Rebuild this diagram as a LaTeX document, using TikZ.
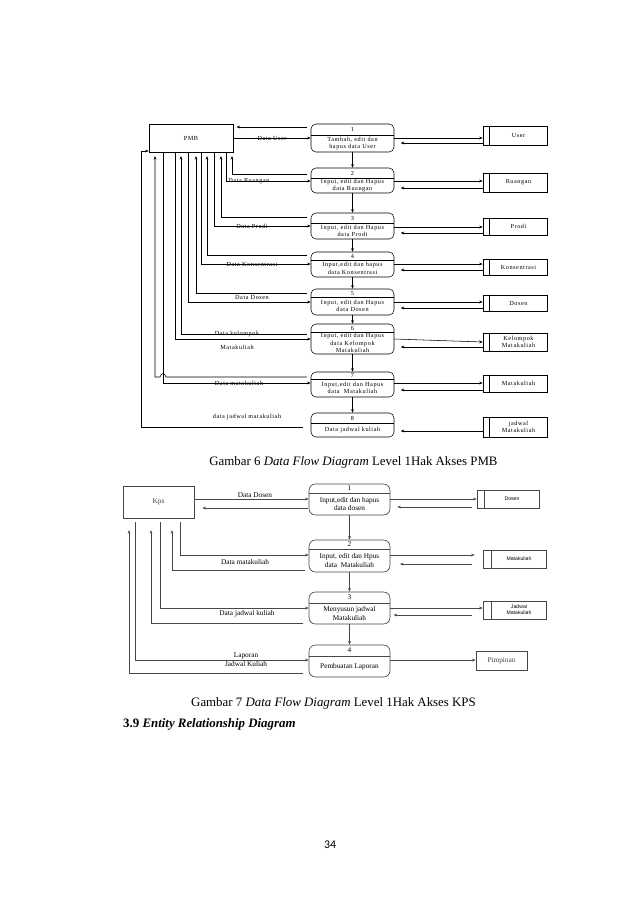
\documentclass[tikz,border=0pt]{standalone}
\usepackage{fontspec}
\setmainfont{Liberation Serif}
\newfontfamily\dfa[LetterSpace=9]{Liberation Serif}
\newfontfamily\dsans{Liberation Sans}
\newfontfamily\carl{Carlito}
\usetikzlibrary{arrows.meta}
\newcommand\pxu{0.9323pt}
\newcommand\ftA{\dfa\fontsize{5.8}{6.9}\selectfont}
\newcommand\ftB{\fontsize{6.8}{7.5}\selectfont}
\newcommand\ftS{\dsans\fontsize{4.8}{5.6}\selectfont}
\tikzset{
  ln/.style={line width=0.5pt, black},
  arr/.style={ln, -{Stealth[length=3.3pt,width=2.6pt]}},
  pbox/.style={draw, ln, rounded corners=4.6pt, inner sep=0pt, minimum width=83*\pxu},
  sbox/.style={draw, ln, inner sep=0pt},
  txt/.style={inner sep=0pt, align=center, font=\ftA},
  stxt/.style={txt}
}
% process: name, cx, top, bottom, divider, number, text
\newcommand\dproc[7]{%
  \node[pbox, minimum height={(#4-#3)*\pxu}] (#1) at (#2,{(#3+#4)/2}) {};
  \draw[ln] (#1.west |- 0,#5) -- (#1.east |- 0,#5);
  \node[txt] (#1n) at (#2,{(#3+#5)/2}) {#6};
  \node[txt] (#1t) at (#2,{(#5+#4)/2}) {#7};
}
% store: name, left, right, top, bottom, inner offset, text
\newcommand\dstore[7]{%
  \node[sbox, minimum width={(#3-#2)*\pxu}, minimum height={(#5-#4)*\pxu}] (#1) at ({(#2+#3)/2},{(#4+#5)/2}) {};
  \draw[ln] ([xshift=#6*\pxu]#1.north west) -- ([xshift=#6*\pxu]#1.south west);
  \node[stxt] (#1t) at ({(#2+#6+#3)/2},{(#4+#5)/2}) {#7};
}
\begin{document}
\begin{tikzpicture}[x=0.9323pt, y=-0.9323pt]
\fill[white] (0,0) rectangle (638,903);
\useasboundingbox (0,0) rectangle (638,903);

% ================= Diagram 1 (PMB) =================
\node[sbox, txt, minimum width=84*\pxu, minimum height=28*\pxu] (pmb) at (191,138) {PMB};

\dproc{p1}{352.5}{124}{152}{135}{1}{Tambah, edit dan\\hapus data User}
\dproc{p2}{352.5}{168}{193}{178}{2}{Input, edit dan Hapus\\data Ruangan}
\dproc{p3}{352.5}{213}{239}{223}{3}{Input, edit dan Hapus\\data Prodi}
\dproc{p4}{352.5}{252}{277}{260}{4}{Input,edit dan hapus\\data Konsentrasi}
\dproc{p5}{352.5}{289}{315}{297}{5}{Input, edit dan Hapus\\data Dosen}
\dproc{p6}{352.5}{324}{354}{332}{6}{Input, edit dan Hapus\\data Kelompok\\Matakuliah}
\dproc{p7}{352.5}{372}{397}{379}{7}{Input,edit dan Hapus\\data\ \ Matakuliah}
\dproc{p8}{352.5}{413}{437}{423}{8}{Data jadwal kuliah}

\dstore{su}{483}{547}{126}{145}{7}{User}
\dstore{sr}{483}{547}{173}{192}{7}{Ruangan}
\dstore{sp}{483}{547}{218}{235}{7}{Prodi}
\dstore{sk}{483}{547}{259}{275}{7}{Konsentrasi}
\dstore{sd}{483}{547}{295}{311}{7}{Dosen}
\dstore{skm}{483}{547}{333}{351}{7}{Kelompok\\Matakuliah}
\dstore{sm}{483}{547}{375}{392}{7}{Matakuliah}
\dstore{sjm}{483}{547}{417}{437}{7}{jadwal\\Matakuliah}

% vertical flow
\draw[arr] (p1.south) -- (p2.north);
\draw[arr] (p2.south) -- (p3.north);
\draw[arr] (p3.south) -- (p4.north);
\draw[arr] (p4.south) -- (p5.north);
\draw[arr] (p5.south) -- (p6.north);
\draw[arr] (p6.south) -- (p7.north);
\draw[arr] (p7.south) -- (p8.north);

% right side (process <-> store)
\draw[arr] (p1.east |- 0,138) -- (su.west |- 0,138);
\draw[arr, shorten >=6pt] (su.west |- 0,143) -- (p1.east |- 0,143);
\draw[arr] (p2.east |- 0,181) -- (sr.west |- 0,181);
\draw[arr, shorten >=6pt] (sr.west |- 0,188) -- (p2.east |- 0,188);
\draw[arr] (p3.east |- 0,227) -- (sp.west |- 0,227);
\draw[arr, shorten >=6pt] (sp.west |- 0,233) -- (p3.east |- 0,233);
\draw[arr] (p4.east |- 0,264) -- (sk.west |- 0,264);
\draw[arr, shorten >=6pt] (sk.west |- 0,270) -- (p4.east |- 0,270);
\draw[arr] (p5.east |- 0,302) -- (sd.west |- 0,302);
\draw[arr, shorten >=6pt] (sd.west |- 0,308) -- (p5.east |- 0,308);
\draw[arr] (p6.east |- 0,339) -- (skm.west |- 0,342);
\draw[arr, shorten >=6pt] (skm.west |- 0,347) -- (p6.east |- 0,347);
\draw[arr] (p7.east |- 0,383) -- (sm.west |- 0,383);
\draw[arr, shorten >=6pt] (sm.west |- 0,390) -- (p7.east |- 0,390);
\draw[arr, shorten >=6pt] (sjm.west |- 0,431) -- (p8.east |- 0,431);

% left side (PMB <-> process)
\draw[arr, shorten <=3.7pt, shorten >=3pt] (p1.west |- 0,127) -- (pmb.east |- 0,127);
\draw[arr] (pmb.east |- 0,138) -- (p1.west |- 0,138);
\draw[arr, shorten <=3.7pt, shorten >=3.5pt] (p2.west |- 0,174) -| (pmb.south -| 232,0);
\draw[arr] (pmb.south -| 226,0) |- (p2.west |- 0,181);
\draw[arr, shorten <=3.7pt, shorten >=3.5pt] (p3.west |- 0,217) -| (pmb.south -| 221,0);
\draw[arr] (pmb.south -| 214,0) |- (p3.west |- 0,226);
\draw[arr, shorten <=3.7pt, shorten >=3.5pt] (p4.west |- 0,255) -| (pmb.south -| 207,0);
\draw[arr] (pmb.south -| 201,0) |- (p4.west |- 0,264);
\draw[arr, shorten <=3.7pt, shorten >=3.5pt] (p5.west |- 0,293) -| (pmb.south -| 196,0);
\draw[arr] (pmb.south -| 188,0) |- (p5.west |- 0,302);
\draw[arr, shorten <=3.7pt, shorten >=3.5pt] (p6.west |- 0,334) -| (pmb.south -| 181,0);
\draw[arr] (pmb.south -| 175,0) |- (p6.west |- 0,339);
\draw[arr, shorten <=3.7pt, shorten >=3.5pt] (p7.west |- 0,377) -- (166,377) .. controls (165,372.5) and (161,372.5) .. (160,377) -| (pmb.south -| 155,0);
\draw[arr] (pmb.south -| 163,0) |- (p7.west |- 0,383);
\draw[arr, shorten <=7pt] (p8.west |- 0,427) -- (141,427) |- (pmb.west |- 0,151);

% labels
\node[txt] (lu) at (272,138) {Data User};
\node[txt] (lr) at (249,181) {Data Ruangan};
\node[txt] (lp) at (252,226) {Data Prodi};
\node[txt] (lk) at (252,264) {Data Konsentrasi};
\node[txt] (ld) at (252,297) {Data Dosen};
\node[txt] (lkm1) at (237,334) {Data kelompok};
\node[txt] (lkm2) at (237,347) {Matakuliah};
\node[txt] (lm) at (239,383) {Data matakuliah};
\node[txt] (lj) at (247,417) {data jadwal matakuliah};

\node[font=\fontsize{12}{14}\selectfont, inner sep=0pt] (cap6) at (353.5,462) {Gambar 6 \textit{Data Flow Diagram} Level 1Hak Akses PMB};

% ================= Diagram 2 (KPS) =================
\begin{scope}[
  ln/.style={line width=0.6pt, black!72},
  pbox/.style={draw, ln, rounded corners=6pt, inner sep=0pt, minimum width=81*\pxu},
  txt/.style={inner sep=0pt, align=center, font=\ftB},
  stxt/.style={inner sep=0pt, align=center, font=\ftS}]
\node[sbox, txt, minimum width=71*\pxu, minimum height=32*\pxu] (kps) at (158.5,502) {Kps};

\dproc{q1}{349.5}{484}{515}{493}{1}{Input,edit dan hapus\\data dosen}
\dproc{q2}{349.5}{540}{572}{549}{2}{Input, edit dan Hpus\\data\ \ Matakuliah}
\dproc{q3}{349.5}{592}{624}{603}{3}{Menyusun jadwal\\Matakuliah}
\dproc{q4}{349.5}{645}{677}{656}{4}{Pembuatan Laporan}

\dstore{t1}{477}{539}{490}{508}{8}{Dosen}
\dstore{t2}{483}{546}{550}{568}{9}{Matakuliah}
\dstore{t3}{483}{546}{601}{619}{9}{Jadwal\\Matakuliah}
\node[sbox, txt, minimum width=51*\pxu, minimum height=19*\pxu] (pim) at (501.5,660.5) {Pimpinan};

\draw[arr] (q1.south) -- (q2.north);
\draw[arr] (q2.south) -- (q3.north);
\draw[arr] (q3.south) -- (q4.north);

\draw[arr] (q1.east |- 0,499) -- (t1.west |- 0,499);
\draw[arr, shorten <=4.5pt, shorten >=6.5pt] (t1.west |- 0,507) -- (q1.east |- 0,507);
\draw[arr, shorten >=7.5pt] (q2.east |- 0,555) -- (t2.west |- 0,555);
\draw[arr, shorten <=10pt, shorten >=9pt] (t2.west |- 0,564) -- (q2.east |- 0,564);
\draw[arr] (q3.east |- 0,608) -- (t3.west |- 0,608);
\draw[arr, shorten <=10pt, shorten >=3pt] (t3.west |- 0,615) -- (q3.east |- 0,615);
\draw[arr] (q4.east |- 0,660) -- (pim.west |- 0,660);

\draw[arr] (kps.east |- 0,499) -- (q1.west |- 0,499);
\draw[arr, shorten <=1pt, shorten >=7.5pt] (q1.west |- 0,508) -- (kps.east |- 0,508);
\draw[arr, shorten <=3.7pt] (kps.south -| 180,0) |- (q2.west |- 0,555);
\draw[arr, shorten <=3.7pt, shorten >=11pt] (q2.west |- 0,570) -| (kps.south -| 172,0);
\draw[arr, shorten <=3.7pt] (kps.south -| 160,0) |- (q3.west |- 0,608);
\draw[arr, shorten <=5pt, shorten >=11pt] (q3.west |- 0,623) -| (kps.south -| 151,0);
\draw[arr, shorten <=3.7pt] (kps.south -| 135,0) |- (q4.west |- 0,660);
\draw[arr, shorten <=5pt, shorten >=11pt] (q4.west |- 0,673) -| (kps.south -| 129,0);

\node[txt] (ld2) at (255,495) {Data Dosen};
\node[txt] (lm2) at (245,562) {Data matakuliah};
\node[txt] (lj2) at (247,614) {Data jadwal kuliah};
\node[txt, font=\fontsize{6.8}{8.4}\selectfont] (ll2) at (246,659.5) {Laporan\\Jadwal Kuliah};
\end{scope}

\node[font=\fontsize{12}{14}\selectfont, inner sep=0pt] (cap7) at (333.5,703) {Gambar 7 \textit{Data Flow Diagram} Level 1Hak Akses KPS};
\node[font=\fontsize{12}{14}\selectfont\bfseries, inner sep=0pt, anchor=west] (sec) at (123,724) {3.9 \textit{Entity Relationship Diagram}};
\node[font=\carl\fontsize{11}{13}\selectfont, inner sep=0pt] (pg) at (330,845) {34};
\end{tikzpicture}
\end{document}
